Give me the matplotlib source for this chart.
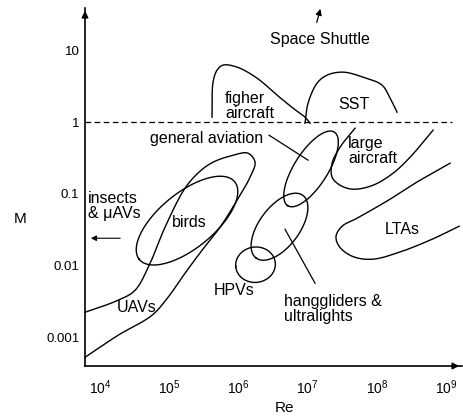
import numpy as np
import matplotlib
matplotlib.use("Agg")
import matplotlib.pyplot as plt
from matplotlib.ticker import FixedLocator, FixedFormatter, NullLocator

plt.rcParams['font.family'] = ['Liberation Sans', 'DejaVu Sans']
plt.rcParams['mathtext.default'] = 'regular'

# ---- data (log10 Re, log10 M) ----
xtick_exp = [4, 5, 6, 7, 8, 9]
ytick_vals = [10, 1, 0.1, 0.01, 0.001]
ytick_labels = ["10", "1", "0.1", "0.01", "0.001"]

fighter_logRe = [5.618, 5.633, 5.691, 5.777, 5.980, 6.269, 6.558, 6.789, 6.962, 7.035]
fighter_logM = [0.068, 0.556, 0.724, 0.794, 0.766, 0.612, 0.375, 0.194, 0.068, -0.015]

sst_logRe = [6.962, 7.006, 7.136, 7.280, 7.512, 7.801, 8.075, 8.191, 8.292]
sst_logM = [-0.015, 0.264, 0.543, 0.654, 0.696, 0.626, 0.515, 0.333, 0.138]

uav_logRe = [3.783, 4.260, 4.751, 4.983, 5.228, 5.474, 5.734, 5.980, 6.168, 6.240,
             6.139, 5.922, 5.633, 5.445, 5.228, 4.939, 4.723, 4.506, 4.260, 3.783]
uav_logM = [-3.279, -2.972, -2.693, -2.442, -2.107, -1.787, -1.466, -1.089, -0.768, -0.559,
            -0.434, -0.462, -0.559, -0.685, -0.922, -1.466, -1.968, -2.345, -2.484, -2.651]

birds_logRe = [4.751, 4.520, 4.694, 4.939, 5.228, 5.517, 5.806, 5.980, 5.922, 5.734, 5.416, 5.040]
birds_logM = [-1.996, -1.675, -1.410, -1.131, -0.922, -0.782, -0.768, -0.908, -1.187, -1.480, -1.745, -1.926]

genav_logRe = [7.251, 7.107, 6.919, 6.717, 6.659, 6.717, 6.861, 7.107, 7.353, 7.439, 7.396]
genav_logM = [-0.141, -0.211, -0.434, -0.768, -1.047, -1.187, -1.159, -0.950, -0.629, -0.350, -0.183]

hang_logRe = [6.818, 6.962, 6.991, 6.919, 6.717, 6.486, 6.240, 6.168, 6.240, 6.428, 6.673]
hang_logM = [-0.978, -1.089, -1.229, -1.508, -1.745, -1.884, -1.884, -1.745, -1.508, -1.229, -1.020]

hpv_logRe = [6.240, 6.428, 6.529, 6.428, 6.197, 5.994, 5.980]
hpv_logM = [-1.745, -1.787, -1.968, -2.177, -2.233, -2.107, -1.898]

large_logRe = [7.685, 7.468, 7.353, 7.353, 7.468, 7.656, 7.945, 8.234, 8.480, 8.812]
large_logM = [-0.085, -0.350, -0.573, -0.768, -0.880, -0.936, -0.880, -0.713, -0.490, -0.113]

lta_logRe = [9.058, 8.624, 8.191, 7.714, 7.497, 7.410, 7.454, 7.642, 7.931, 8.321, 8.798, 9.188]
lta_logM = [-0.573, -0.810, -1.075, -1.340, -1.452, -1.591, -1.731, -1.870, -1.912, -1.815, -1.633, -1.452]

genav_leader_logRe = [6.442, 7.006]
genav_leader_logM = [-0.183, -0.531]
hang_leader_logRe = [6.673, 7.107]
hang_leader_logM = [-1.494, -2.247]

sonic_M = 1.0
sonic_logRe = [3.783, 9.087]


def smooth(xs, ys, n=24, alpha=0.5):
    """Centripetal Catmull-Rom spline through the points (in log space)."""
    P = np.column_stack([xs, ys]).astype(float)
    E = np.vstack([2 * P[0] - P[1], P, 2 * P[-1] - P[-2]])
    out = []
    for i in range(1, len(E) - 2):
        p0, p1, p2, p3 = E[i - 1], E[i], E[i + 1], E[i + 2]
        t0 = 0.0
        t1 = t0 + max(np.linalg.norm(p1 - p0), 1e-6) ** alpha
        t2 = t1 + max(np.linalg.norm(p2 - p1), 1e-6) ** alpha
        t3 = t2 + max(np.linalg.norm(p3 - p2), 1e-6) ** alpha
        t = np.linspace(t1, t2, n, endpoint=False)[:, None]
        A1 = (t1 - t) / (t1 - t0) * p0 + (t - t0) / (t1 - t0) * p1
        A2 = (t2 - t) / (t2 - t1) * p1 + (t - t1) / (t2 - t1) * p2
        A3 = (t3 - t) / (t3 - t2) * p2 + (t - t2) / (t3 - t2) * p3
        B1 = (t2 - t) / (t2 - t0) * A1 + (t - t0) / (t2 - t0) * A2
        B2 = (t3 - t) / (t3 - t1) * A2 + (t - t1) / (t3 - t1) * A3
        C = (t2 - t) / (t2 - t1) * B1 + (t - t1) / (t2 - t1) * B2
        out.append(C)
    out.append(E[-2][None, :])
    S = np.vstack(out)
    return 10 ** S[:, 0], 10 ** S[:, 1]


def ellipse_fit(xs, ys, n=200):
    """Least-squares ellipse through the traced loop points (in log space)."""
    x = np.asarray(xs, float)
    y = np.asarray(ys, float)
    mx, my = x.mean(), y.mean()
    u, v = x - mx, y - my
    D = np.column_stack([u * u, u * v, v * v, u, v])
    p, *_ = np.linalg.lstsq(D, np.ones_like(u), rcond=None)
    A, B, C, Dl, El = p
    M = np.array([[A, B / 2], [B / 2, C]])
    L = np.array([Dl, El])
    c = -0.5 * np.linalg.solve(M, L)
    R = 1 + c @ M @ c
    lam, V = np.linalg.eigh(M)
    ax_len = np.sqrt(R / lam)
    t = np.linspace(0, 2 * np.pi, n)
    Z = V @ np.vstack([ax_len[0] * np.cos(t), ax_len[1] * np.sin(t)])
    return 10 ** (Z[0] + c[0] + mx), 10 ** (Z[1] + c[1] + my)


fig = plt.figure(figsize=(4.64, 4.18), dpi=100)
ax = fig.add_axes([85 / 464, 1 - 366 / 418, (462 - 85) / 464, (366 - 8) / 418])
ax.set_xscale('log')
ax.set_yscale('log')
ax.set_xlim(10 ** 3.783, 10 ** 9.23)
ax.set_ylim(10 ** -3.40, 10 ** 1.59)

lw = 1.0
for xs, ys in [(fighter_logRe, fighter_logM), (sst_logRe, sst_logM), (uav_logRe, uav_logM),
               (large_logRe, large_logM), (lta_logRe, lta_logM)]:
    X, Y = smooth(xs, ys)
    ax.plot(X, Y, color='black', lw=lw, clip_on=False)

for xs, ys in [(birds_logRe, birds_logM), (genav_logRe, genav_logM),
               (hang_logRe, hang_logM), (hpv_logRe, hpv_logM)]:
    X, Y = ellipse_fit(xs, ys)
    ax.plot(X, Y, color='black', lw=lw)

for xs, ys in [(genav_leader_logRe, genav_leader_logM), (hang_leader_logRe, hang_leader_logM)]:
    ax.plot(10 ** np.array(xs), 10 ** np.array(ys), color='black', lw=0.9)

ax.plot(10 ** np.array(sonic_logRe), [sonic_M, sonic_M], color='black', lw=0.9,
        dashes=(4.5, 2.8))

# arrows
ax.annotate('', xy=(10 ** 3.827, 10 ** -1.619), xytext=(10 ** 4.332, 10 ** -1.619),
            arrowprops=dict(arrowstyle='-|>', color='black', lw=0.8, mutation_scale=8))
ax.annotate('', xy=(10 ** 7.194, 10 ** 1.616), xytext=(10 ** 7.121, 10 ** 1.351),
            arrowprops=dict(arrowstyle='-|>', color='black', lw=0.9, mutation_scale=9),
            annotation_clip=False)

fs = 11.5
ax.text(10 ** 7.172, 10 ** 1.156, 'Space Shuttle', ha='center', va='center', fontsize=fs)
ax.text(10 ** 5.806, 10 ** 0.229, 'figher\naircraft', ha='left', va='center', fontsize=fs,
        linespacing=1.0)
ax.text(10 ** 7.671, 10 ** 0.250, 'SST', ha='center', va='center', fontsize=fs)
ax.text(10 ** 5.539, 10 ** -0.225, 'general aviation', ha='center', va='center', fontsize=fs)
ax.text(10 ** 7.584, 10 ** -0.406, 'large\naircraft', ha='left', va='center', fontsize=fs,
        linespacing=1.0)
ax.text(10 ** 3.827, 10 ** -1.166, 'insects\n& \u03bcAVs', ha='left', va='center', fontsize=fs,
        linespacing=1.0)
ax.text(10 ** 5.286, 10 ** -1.396, 'birds', ha='center', va='center', fontsize=fs)
ax.text(10 ** 4.535, 10 ** -2.582, 'UAVs', ha='center', va='center', fontsize=fs)
ax.text(10 ** 5.936, 10 ** -2.345, 'HPVs', ha='center', va='center', fontsize=fs)
ax.text(10 ** 6.659, 10 ** -2.609, 'hanggliders &\nultralights', ha='left', va='center',
        fontsize=fs, linespacing=1.0)
ax.text(10 ** 8.371, 10 ** -1.494, 'LTAs', ha='center', va='center', fontsize=fs)

# axes styling
for s in ['top', 'right']:
    ax.spines[s].set_visible(False)
for s in ['left', 'bottom']:
    ax.spines[s].set_linewidth(1.2)
ax.annotate('', xy=(1.0, 0), xytext=(0.97, 0), xycoords='axes fraction',
            arrowprops=dict(arrowstyle='-|>', color='black', lw=1.0, mutation_scale=10))
ax.annotate('', xy=(0, 1.0), xytext=(0, 0.97), xycoords='axes fraction',
            arrowprops=dict(arrowstyle='-|>', color='black', lw=1.0, mutation_scale=10))

ax.xaxis.set_major_locator(FixedLocator([10.0 ** e for e in xtick_exp]))
ax.xaxis.set_major_formatter(FixedFormatter(['$10^{%d}$' % e for e in xtick_exp]))
ax.xaxis.set_minor_locator(NullLocator())
ax.yaxis.set_major_locator(FixedLocator(ytick_vals))
ax.yaxis.set_major_formatter(FixedFormatter(ytick_labels))
ax.yaxis.set_minor_locator(NullLocator())
ax.tick_params(axis='x', length=0, pad=9, labelsize=10)
ax.tick_params(axis='y', length=0, pad=4, labelsize=9.5)

fig.text(285 / 464, 1 - 408 / 418, 'Re', ha='center', va='center', fontsize=11)
fig.text(20 / 464, 1 - 219 / 418, 'M', ha='center', va='center', fontsize=11)

fig.savefig('out.png', dpi=100)
